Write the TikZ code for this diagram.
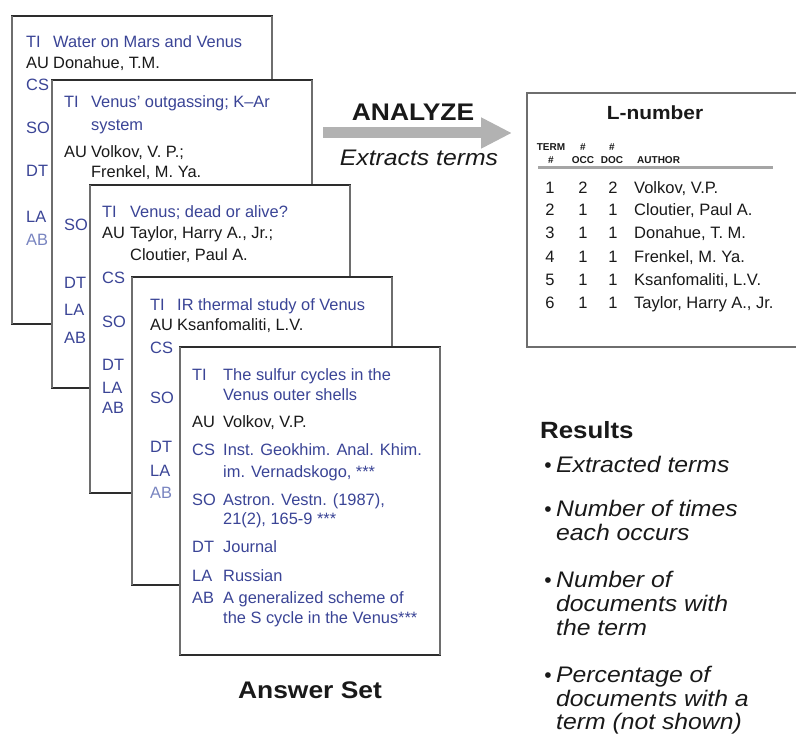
\documentclass[tikz,border=0pt]{standalone}
\usepackage{fontspec}
\setmainfont{Liberation Sans}
\newfontfamily\widefont[FakeStretch=1.1]{Liberation Sans}
\usetikzlibrary{arrows.meta}
\definecolor{cblue}{RGB}{58,68,150}
\definecolor{lblue}{RGB}{120,132,192}
\definecolor{ink}{RGB}{25,25,25}
\definecolor{edgedark}{RGB}{45,45,45}
\definecolor{edgegray}{RGB}{110,110,110}
\definecolor{arrowgray}{RGB}{178,178,178}
\definecolor{rulegray}{RGB}{165,165,165}
\tikzset{
  cardbox/.style={draw=edgedark, line width=1.7pt, fill=white, anchor=north west,
    minimum width=260pt, minimum height=308pt, inner sep=0, outer sep=0},
  sideedge/.style={draw=edgegray, line width=2.6pt},
  ct/.style={anchor=base west, inner sep=0, font=\fontsize{16.4}{19}\selectfont},
  tbl/.style={anchor=base, inner sep=0, font=\fontsize{16.5}{19}\selectfont, text=ink},
  tblw/.style={anchor=base west, inner sep=0, font=\fontsize{16.5}{19}\selectfont, text=ink},
  hdr/.style={anchor=base, inner sep=0, font=\bfseries\fontsize{10}{10}\selectfont, text=ink},
  res/.style={anchor=base west, inner sep=0, font=\widefont\itshape\fontsize{22.5}{24}\selectfont, text=ink},
  bigarrow/.style={draw=arrowgray, line width=11pt,
    -{Triangle[width=29pt,length=31pt]}, arrowgray}
}
\newcommand\ctext[5][cblue]{\node[ct, text=#1] (#2) at (#3,#4) {#5};}
\newcommand\mycard[3]{%
  \node[cardbox] (#1) at (#2,#3) {};
  \draw[sideedge] (#1.north west) -- (#1.south west);
  \draw[sideedge] (#1.north east) -- (#1.south east);
}
\begin{document}
\begin{tikzpicture}[x=1pt,y=-1pt]
\useasboundingbox (0,0) rectangle (796,735);

% ---------- card 1
\mycard{c1}{12}{16}
\ctext{c1a}{26}{48}{TI}
\ctext{c1b}{53}{48}{Water on Mars and Venus}
\ctext[ink]{c1c}{26}{69}{AU}
\ctext[ink]{c1d}{53}{69}{Donahue, T.M.}
\ctext{c1e}{26}{91}{CS}
\ctext{c1f}{26}{134}{SO}
\ctext{c1g}{26}{177}{DT}
\ctext{c1h}{26}{223}{LA}
\ctext[lblue]{c1i}{26}{246}{AB}

% ---------- card 2
\mycard{c2}{52}{80}
\ctext{c2a}{64}{108}{TI}
\ctext{c2b}{91}{108}{Venus’ outgassing; K–Ar}
\ctext{c2c}{91}{131}{system}
\ctext[ink]{c2d}{64}{158}{AU}
\ctext[ink]{c2e}{91}{158}{Volkov, V. P.;}
\ctext[ink]{c2f}{91}{178}{Frenkel, M. Ya.}
\ctext{c2g}{64}{231}{SO}
\ctext{c2h}{64}{289}{DT}
\ctext{c2i}{64}{316}{LA}
\ctext{c2j}{64}{344}{AB}

% ---------- card 3
\mycard{c3}{90}{185}
\ctext{c3a}{102}{218}{TI}
\ctext{c3b}{130}{218}{Venus; dead or alive?}
\ctext[ink]{c3c}{102}{239}{AU}
\ctext[ink]{c3d}{130}{239}{Taylor, Harry A., Jr.;}
\ctext[ink]{c3e}{130}{261}{Cloutier, Paul A.}
\ctext{c3f}{102}{284}{CS}
\ctext{c3g}{102}{328}{SO}
\ctext{c3h}{102}{371}{DT}
\ctext{c3i}{102}{394}{LA}
\ctext{c3j}{102}{414}{AB}

% ---------- card 4
\mycard{c4}{132}{277}
\ctext{c4a}{150}{311}{TI}
\ctext{c4b}{177}{311}{IR thermal study of Venus}
\ctext[ink]{c4c}{150}{331}{AU}
\ctext[ink]{c4d}{177}{331}{Ksanfomaliti, L.V.}
\ctext{c4e}{150}{354}{CS}
\ctext{c4f}{150}{404}{SO}
\ctext{c4g}{150}{453}{DT}
\ctext{c4h}{150}{476}{LA}
\ctext[lblue]{c4i}{150}{499}{AB}

% ---------- card 5
\mycard{c5}{180}{347}
\ctext{c5a}{192}{381}{TI}
\ctext{c5b}{223}{381}{The sulfur cycles in the}
\ctext{c5c}{223}{401}{Venus outer shells}
\ctext[ink]{c5d}{192}{428}{AU}
\ctext[ink]{c5e}{223}{428}{Volkov, V.P.}
\ctext{c5f}{192}{456}{CS}
\ctext{c5g}{223}{456}{Inst. Geokhim. Anal. Khim.}
\ctext{c5h}{223}{478}{im. Vernadskogo, ***}
\ctext{c5i}{192}{506}{SO}
\ctext{c5j}{223}{506}{Astron. Vestn. (1987),}
\ctext{c5k}{223}{525}{21(2), 165-9 ***}
\ctext{c5l}{192}{552}{DT}
\ctext{c5m}{223}{552}{Journal}
\ctext{c5n}{192}{581}{LA}
\ctext{c5o}{223}{581}{Russian}
\ctext{c5p}{192}{603}{AB}
\ctext{c5q}{223}{603}{A generalized scheme of}
\ctext{c5r}{223}{623}{the S cycle in the Venus***}

\node[anchor=base, inner sep=0, font=\widefont\bfseries\fontsize{24}{26}\selectfont, text=ink]
  (answer) at (310,698) {Answer Set};

% ---------- arrow
\coordinate (arS) at (323,133);
\coordinate (arE) at (512,133);
\draw[bigarrow] (arS) -- (arE);
\node[anchor=base, inner sep=0, font=\widefont\bfseries\fontsize{24}{26}\selectfont, text=ink]
  (analyze) at (413,121) {ANALYZE};
\node[anchor=base, inner sep=0, font=\widefont\itshape\fontsize{22.5}{24}\selectfont, text=ink]
  (extracts) at (419,166) {Extracts terms};

% ---------- L-number table
\node[draw=edgegray, line width=2.6pt, fill=white, anchor=north west, inner sep=0, outer sep=0,
  minimum width=285pt, minimum height=254pt] (lbox) at (527,93) {};
\node[anchor=base, inner sep=0, font=\widefont\bfseries\fontsize{19}{21}\selectfont, text=ink]
  (ltitle) at (655,119.5) {L-number};
\node[hdr] (h1) at (551,151) {TERM};
\node[hdr] (h2) at (551,164) {\#};
\node[hdr] (h3) at (583,151) {\#};
\node[hdr] (h4) at (583,164) {OCC};
\node[hdr] (h5) at (612,151) {\#};
\node[hdr] (h6) at (612,164) {DOC};
\node[hdr, anchor=base west] (h7) at (637,164) {AUTHOR};
\coordinate (ruleL) at (538,167.5);
\coordinate (ruleR) at (773,167.5);
\draw[rulegray, line width=3pt] (ruleL) -- (ruleR);

\foreach \n/\o/\d/\a/\y in {1/2/2/{Volkov, V.P.}/194,
    2/1/1/{Cloutier, Paul A.}/216,
    3/1/1/{Donahue, T. M.}/239,
    4/1/1/{Frenkel, M. Ya.}/263,
    5/1/1/{Ksanfomaliti, L.V.}/286,
    6/1/1/{Taylor, Harry A., Jr.}/309}{
  \node[tbl] (r\n n) at (550,\y) {\n};
  \node[tbl] (r\n o) at (583,\y) {\o};
  \node[tbl] (r\n d) at (613,\y) {\d};
  \node[tblw] (r\n a) at (634,\y) {\a};
}

% ---------- Results
\node[anchor=base west, inner sep=0, font=\widefont\bfseries\fontsize{23.5}{26}\selectfont, text=ink]
  (results) at (540,438.5) {Results};
\foreach \t/\y/\b [count=\i] in {Extracted terms/473/1,
    Number of times/516/1, each occurs/540/0,
    Number of/587/1, documents with/611/0, the term/635/0,
    Percentage of/682/1, documents with a/706/0, term (not shown)/729/0}{
  \node[res] (res\i) at (556,\y) {\t};
  \ifnum\b=1
    \node[anchor=base east, inner sep=0, font=\fontsize{21}{22}\selectfont, text=ink]
      (bul\i) at (552,\y) {•};
  \fi
}
\end{tikzpicture}
\end{document}
